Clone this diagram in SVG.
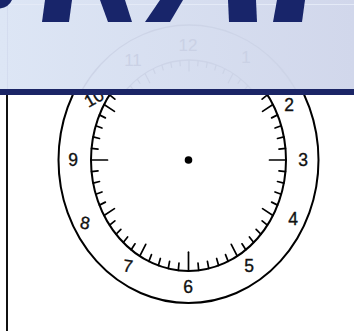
<svg xmlns="http://www.w3.org/2000/svg" xmlns:xlink="http://www.w3.org/1999/xlink" width="354" height="331" viewBox="0 0 354 331">
<style>
.tk{stroke:#000;stroke-width:1.7;vector-effect:non-scaling-stroke;stroke-linecap:round}
.ftk{stroke:#ccd3e6;stroke-width:1.2;vector-effect:non-scaling-stroke}
.num{font-family:"Liberation Sans",Arial,sans-serif;font-size:17.5px;fill:#111;stroke:#111;stroke-width:0.35;text-anchor:middle}
.fnum{font-family:"Liberation Sans",Arial,sans-serif;font-size:17px;fill:#cad1e5;text-anchor:middle}
.navy{fill:#18256a}
</style>
<defs>
<linearGradient id="bg" x1="0" y1="0" x2="1" y2="0">
<stop offset="0" stop-color="#dde6f5"/>
<stop offset="1" stop-color="#d1d7eb"/>
</linearGradient>
<clipPath id="bc"><rect x="0" y="0" width="354" height="89"/></clipPath>
<line id="m" class="tk" x1="0" y1="-97.5" x2="0" y2="-91"/>
<line id="h" class="tk" x1="0" y1="-97.5" x2="0" y2="-85.5"/>
<line id="q" class="tk" x1="0" y1="-97.5" x2="0" y2="-81"/>
<line id="fm" class="ftk" x1="0" y1="-88" x2="0" y2="-83"/>
<line id="fh" class="ftk" x1="0" y1="-88" x2="0" y2="-78"/>
</defs>
<rect width="354" height="331" fill="#fff"/>
<g id="clock">
<ellipse cx="188.5" cy="160" rx="130" ry="143" fill="none" stroke="#000" stroke-width="2"/>
<ellipse cx="188.5" cy="160" rx="97.5" ry="111" fill="none" stroke="#000" stroke-width="2"/>
<circle cx="188.5" cy="160" r="3.8" fill="#000"/>
<g transform="translate(188.5,160) scale(1,1.138)">
<use href="#q"/><use href="#m" transform="rotate(6)"/><use href="#m" transform="rotate(12)"/><use href="#m" transform="rotate(18)"/><use href="#m" transform="rotate(24)"/>
<use href="#h" transform="rotate(30)"/><use href="#m" transform="rotate(36)"/><use href="#m" transform="rotate(42)"/><use href="#m" transform="rotate(48)"/><use href="#m" transform="rotate(54)"/>
<use href="#h" transform="rotate(60)"/><use href="#m" transform="rotate(66)"/><use href="#m" transform="rotate(72)"/><use href="#m" transform="rotate(78)"/><use href="#m" transform="rotate(84)"/>
<use href="#q" transform="rotate(90)"/><use href="#m" transform="rotate(96)"/><use href="#m" transform="rotate(102)"/><use href="#m" transform="rotate(108)"/><use href="#m" transform="rotate(114)"/>
<use href="#h" transform="rotate(120)"/><use href="#m" transform="rotate(126)"/><use href="#m" transform="rotate(132)"/><use href="#m" transform="rotate(138)"/><use href="#m" transform="rotate(144)"/>
<use href="#h" transform="rotate(150)"/><use href="#m" transform="rotate(156)"/><use href="#m" transform="rotate(162)"/><use href="#m" transform="rotate(168)"/><use href="#m" transform="rotate(174)"/>
<use href="#q" transform="rotate(180)"/><use href="#m" transform="rotate(186)"/><use href="#m" transform="rotate(192)"/><use href="#m" transform="rotate(198)"/><use href="#m" transform="rotate(204)"/>
<use href="#h" transform="rotate(210)"/><use href="#m" transform="rotate(216)"/><use href="#m" transform="rotate(222)"/><use href="#m" transform="rotate(228)"/><use href="#m" transform="rotate(234)"/>
<use href="#h" transform="rotate(240)"/><use href="#m" transform="rotate(246)"/><use href="#m" transform="rotate(252)"/><use href="#m" transform="rotate(258)"/><use href="#m" transform="rotate(264)"/>
<use href="#q" transform="rotate(270)"/><use href="#m" transform="rotate(276)"/><use href="#m" transform="rotate(282)"/><use href="#m" transform="rotate(288)"/><use href="#m" transform="rotate(294)"/>
<use href="#h" transform="rotate(300)"/><use href="#m" transform="rotate(306)"/><use href="#m" transform="rotate(312)"/><use href="#m" transform="rotate(318)"/><use href="#m" transform="rotate(324)"/>
<use href="#h" transform="rotate(330)"/><use href="#m" transform="rotate(336)"/><use href="#m" transform="rotate(342)"/><use href="#m" transform="rotate(348)"/><use href="#m" transform="rotate(354)"/>
</g>
<text class="num" x="73" y="166">9</text>
<text class="num" x="303" y="166">3</text>
<text class="num" x="188" y="293">6</text>
<text class="num" x="289" y="111">2</text>
<text class="num" x="293" y="225">4</text>
<text class="num" x="249" y="272">5</text>
<text class="num" x="128" y="272" transform="rotate(8 128 266)">7</text>
<text class="num" x="85" y="229" transform="rotate(10 85 223)">8</text>
<text class="num" x="94" y="104" transform="rotate(-30 94 98)">10</text>
</g>
<line id="left-rule" x1="7" y1="90" x2="7" y2="331" stroke="#111" stroke-width="2"/>
<g id="banner">
<rect x="0" y="0" width="354" height="89" fill="url(#bg)"/>
<line x1="0" y1="4.5" x2="354" y2="4.5" stroke="#e4eaf7" stroke-width="1"/>
<line x1="7.5" y1="0" x2="7.5" y2="89" stroke="#d4dcef" stroke-width="1"/>
<g id="watermark" clip-path="url(#bc)">
<ellipse cx="189" cy="160" rx="125" ry="135" fill="none" stroke="#cdd4e7" stroke-width="1.3"/>
<ellipse cx="189" cy="160" rx="88" ry="100" fill="none" stroke="#cdd4e7" stroke-width="1.3"/>
<g transform="translate(189,160) scale(1,1.136)">
<use href="#fh" transform="rotate(0)"/><use href="#fm" transform="rotate(6)"/><use href="#fm" transform="rotate(12)"/><use href="#fm" transform="rotate(18)"/><use href="#fm" transform="rotate(24)"/><use href="#fh" transform="rotate(30)"/><use href="#fm" transform="rotate(36)"/><use href="#fm" transform="rotate(42)"/><use href="#fm" transform="rotate(48)"/>
<use href="#fm" transform="rotate(-6)"/><use href="#fm" transform="rotate(-12)"/><use href="#fm" transform="rotate(-18)"/><use href="#fm" transform="rotate(-24)"/><use href="#fh" transform="rotate(-30)"/><use href="#fm" transform="rotate(-36)"/><use href="#fm" transform="rotate(-42)"/><use href="#fm" transform="rotate(-48)"/>
</g>
<text class="fnum" x="188" y="51">12</text>
<text class="fnum" x="133" y="66">11</text>
<text class="fnum" x="246" y="63">1</text>
</g>
<g id="title-fragments">
<path class="navy" d="M0,0 L12,0 Q9,7 0,8.5 Z"/>
<polygon class="navy" points="45,0 72,0 69,22 42,22"/>
<polygon class="navy" points="100,0 125,0 132,22 108,22"/>
<polygon class="navy" points="160,0 183,0 170,22 145,22"/>
<polygon class="navy" points="228,0 256,0 257,22 229,22"/>
<polygon class="navy" points="277,0 305,0 302,22 273,22"/>
</g>
<rect x="0" y="89" width="354" height="6" fill="#1b2566"/>
</g>
</svg>
